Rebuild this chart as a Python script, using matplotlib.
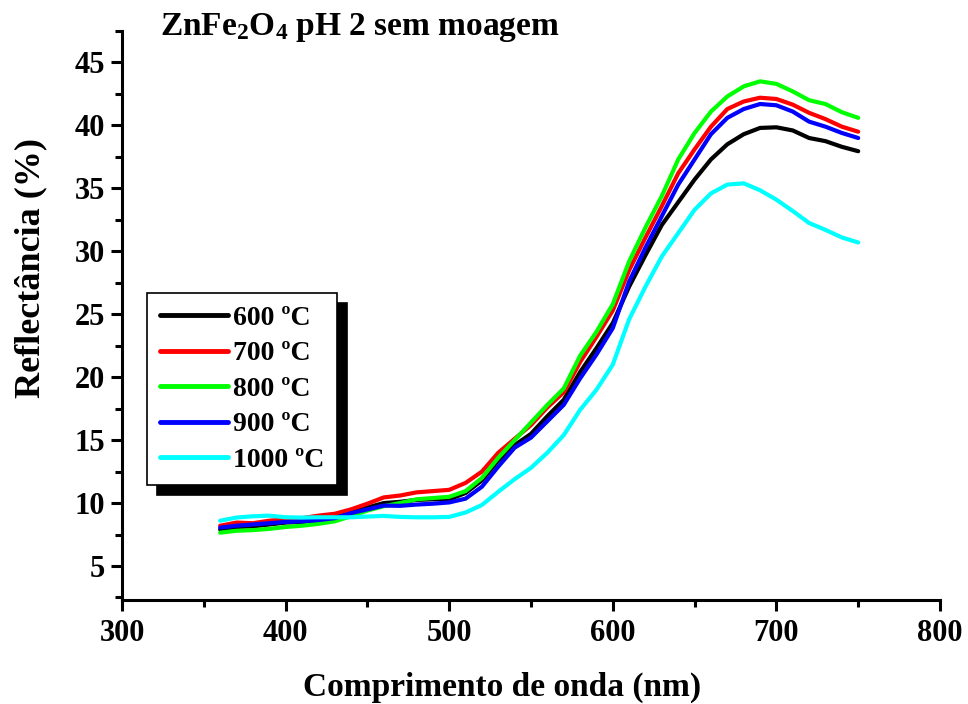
import matplotlib
matplotlib.use("Agg")
import matplotlib.pyplot as plt
from matplotlib.ticker import MultipleLocator

plt.rcParams['font.family'] = ['Liberation Serif', 'DejaVu Serif']
plt.rcParams['font.weight'] = 'bold'
plt.rcParams['mathtext.fontset'] = 'custom'
plt.rcParams['mathtext.rm'] = 'Liberation Serif:bold'
plt.rcParams['mathtext.bf'] = 'Liberation Serif:bold'
plt.rcParams['mathtext.it'] = 'Liberation Serif:bold'

wavelength = [360, 370, 380, 390, 400, 410, 420, 430, 440, 450, 460, 470, 480, 490, 500,
              510, 520, 530, 540, 550, 560, 570, 580, 590, 600, 610, 620, 630, 640, 650,
              660, 670, 680, 690, 700, 710, 720, 730, 740, 750]

r600 = [7.9, 8.1, 8.15, 8.3, 8.45, 8.5, 8.65, 8.9, 9.3, 9.65, 10.0, 10.1, 10.25, 10.3, 10.3,
        10.8, 11.8, 13.4, 14.6, 15.5, 16.9, 18.2, 20.4, 22.3, 24.3, 27.2, 29.7, 32.1, 33.9, 35.7,
        37.3, 38.5, 39.3, 39.8, 39.85, 39.6, 39.0, 38.75, 38.3, 37.95]

r700 = [8.2, 8.45, 8.4, 8.6, 8.7, 8.8, 9.0, 9.15, 9.5, 9.95, 10.45, 10.6, 10.85, 10.95, 11.05,
        11.6, 12.5, 14.0, 15.1, 16.2, 17.6, 18.8, 21.2, 23.2, 25.3, 28.5, 31.1, 33.6, 36.2, 38.1,
        39.9, 41.3, 41.9, 42.2, 42.1, 41.65, 41.0, 40.5, 39.9, 39.5]

r800 = [7.65, 7.8, 7.85, 7.95, 8.1, 8.2, 8.35, 8.55, 8.95, 9.4, 9.75, 10.0, 10.3, 10.4, 10.5,
        10.95, 12.0, 13.6, 15.0, 16.4, 17.8, 19.1, 21.7, 23.6, 25.8, 29.2, 31.9, 34.4, 37.3, 39.4,
        41.1, 42.3, 43.1, 43.5, 43.3, 42.7, 42.0, 41.7, 41.05, 40.6]

r900 = [8.05, 8.2, 8.3, 8.4, 8.5, 8.55, 8.65, 8.8, 9.2, 9.5, 9.8, 9.78, 9.88, 9.95, 10.05,
        10.35, 11.3, 12.9, 14.4, 15.2, 16.5, 17.8, 19.9, 21.8, 23.9, 27.6, 30.3, 32.8, 35.3, 37.3,
        39.3, 40.6, 41.3, 41.7, 41.6, 41.1, 40.3, 39.9, 39.4, 39.0]

r1000 = [8.6, 8.85, 8.95, 9.0, 8.87, 8.85, 8.87, 8.87, 8.87, 8.93, 8.98, 8.9, 8.87, 8.87, 8.9,
         9.25, 9.85, 10.9, 11.9, 12.8, 14.0, 15.4, 17.4, 19.0, 21.0, 24.6, 27.2, 29.6, 31.45, 33.3,
         34.6, 35.3, 35.4, 34.85, 34.1, 33.2, 32.25, 31.7, 31.1, 30.7]

series = [r600, r700, r800, r900, r1000]
labels = ['600 ºC', '700 ºC', '800 ºC', '900 ºC', '1000 ºC']
colors = ['#000000', '#ff0000', '#00ff00', '#0000ff', '#00ffff']

fig = plt.figure(figsize=(9.68, 7.04), dpi=100)
ax = fig.add_axes([122/968, 1-600/704, (940-122)/968, (600-31)/704])

for y, lab, c in zip(series, labels, colors):
    ax.plot(wavelength, y, color=c, lw=3.0, label=lab, solid_joinstyle='round', solid_capstyle='round')

ax.set_xlim(300, 800)
ax.set_ylim(2.3, 47.5)
ax.xaxis.set_major_locator(MultipleLocator(100))
ax.xaxis.set_minor_locator(MultipleLocator(50))
ax.yaxis.set_minor_locator(MultipleLocator(2.5))
ax.set_yticks([5, 10, 15, 20, 25, 30, 35, 40, 45])

for s in ['top', 'right']:
    ax.spines[s].set_visible(False)
for s in ['left', 'bottom']:
    ax.spines[s].set_linewidth(2.2)

ax.tick_params(which='major', direction='out', length=8, width=2.2)
ax.tick_params(which='minor', direction='out', length=5, width=2.2)
ax.tick_params(axis='x', labelsize=22, pad=6)
ax.tick_params(axis='y', labelsize=22, pad=4)
for t in ax.get_xticklabels() + ax.get_yticklabels():
    t.set_fontweight('bold')

ax.set_xlabel('Comprimento de onda (nm)', fontsize=24, fontweight='bold')
ax.set_ylabel('Reflectância (%)', fontsize=26, fontweight='bold')
ax.xaxis.set_label_coords((502-122)/818, (600-672)/569)
ax.yaxis.set_label_coords((47-122)/818, (600-268)/569)

leg = ax.legend(loc='upper left', bbox_to_anchor=((147-122)/818, (600-293)/569),
                borderaxespad=0, fontsize=20, frameon=True, fancybox=False,
                shadow={'ox': 7, 'oy': -7, 'facecolor': 'black', 'edgecolor': 'black', 'alpha': 1},
                handlelength=2.45, handletextpad=0.2, labelspacing=0.36, borderpad=0.45)
leg.get_frame().set_edgecolor('black')
leg.get_frame().set_linewidth(1.2)
for line in leg.get_lines():
    line.set_linewidth(3.5)

fig.text(160/968, 1-27/704, 'ZnFe$_2$O$_4$ pH 2 sem moagem', fontsize=24,
         fontweight='bold', ha='left', va='center')

fig.savefig('out.png', dpi=100)
